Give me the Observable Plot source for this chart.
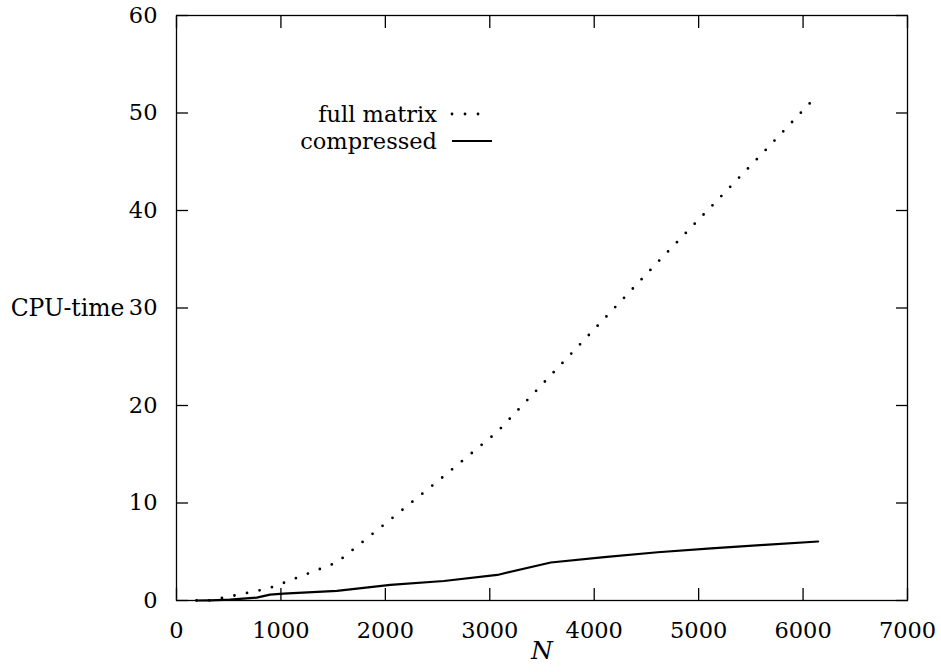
<!DOCTYPE html>
<html><head><meta charset="utf-8">
<script src="https://cdn.jsdelivr.net/npm/d3@7"></script>
<script src="https://cdn.jsdelivr.net/npm/@observablehq/plot@0.6"></script>
<style>
body{margin:0;background:#fff;}
#wrap{position:relative;width:941px;height:672px;background:#fff;}
#legend{position:absolute;left:0;top:101px;width:437px;text-align:right;font-family:"DejaVu Serif",serif;font-size:22.5px;line-height:27px;color:#000;}
#legendKeys{position:absolute;left:450px;top:101px;}
</style></head><body><div id="wrap"></div>
<script>
const N          = [192, 320, 512, 768, 896, 1024, 1536, 2048, 2560, 3072, 3584, 4096, 4608, 5120, 5632, 6144];
const fullMatrix = [0.0, 0.02, 0.42, 0.98, 1.3, 1.8, 3.9, 8.3, 12.75, 17.3, 23.1, 28.9, 34.7, 40.4, 46.1, 51.9];
const compressed = [0.0, 0.02, 0.08, 0.3, 0.6, 0.7, 0.98, 1.6, 2.0, 2.62, 3.9, 4.45, 4.95, 5.35, 5.7, 6.05];
const xTicks = [0, 1000, 2000, 3000, 4000, 5000, 6000, 7000];
const yTicks = [0, 10, 20, 30, 40, 50, 60];
const seriesNames = ["full matrix", "compressed"];
const xLabel = "N";
const yLabel = "CPU-time";

const rows = N.map((n, i) => ({n, full: fullMatrix[i], comp: compressed[i]}));
const font = "DejaVu Serif";

const chart = Plot.plot({
  width: 941, height: 672,
  marginLeft: 176, marginRight: 34, marginTop: 15, marginBottom: 72,
  style: {fontFamily: font, fontSize: "22px", background: "#fff", color: "#000"},
  x: {domain: [0, 7000]},
  y: {domain: [0, 60]},
  marks: [
    // inward ticks on all four sides
    Plot.axisX(xTicks, {anchor: "bottom", tickSize: -12, tickFormat: () => "", label: null, strokeWidth: 1.3}),
    Plot.axisX(xTicks, {anchor: "top", tickSize: -12, tickFormat: () => "", label: null, strokeWidth: 1.3}),
    Plot.axisY(yTicks, {anchor: "left", tickSize: -12, tickFormat: () => "", label: null, strokeWidth: 1.3}),
    Plot.axisY(yTicks, {anchor: "right", tickSize: -12, tickFormat: () => "", label: null, strokeWidth: 1.3}),
    // tick labels
    Plot.axisX(xTicks, {anchor: "bottom", tickSize: 0, tickPadding: 22, label: null, fontSize: 22.5, tickFormat: d => String(d)}),
    Plot.axisY(yTicks, {anchor: "left", tickSize: 0, tickPadding: 19, label: null, fontSize: 22.5, tickFormat: d => String(d)}),
    Plot.frame({stroke: "#000", strokeWidth: 1.3}),
    Plot.line(rows, {x: "n", y: "full", stroke: "#000", strokeWidth: 2.8, strokeDasharray: "0 12.8", strokeLinecap: "round"}),
    Plot.line(rows, {x: "n", y: "comp", stroke: "#000", strokeWidth: 2.2}),
    Plot.text([yLabel], {frameAnchor: "left", dx: -52, textAnchor: "end", fontSize: 23.5}),
    Plot.text([xLabel], {frameAnchor: "bottom", dy: 58, fontSize: 25, fontStyle: "italic"})
  ]
});

const wrap = document.getElementById("wrap");
wrap.appendChild(chart);
const lg = document.createElement("div");
lg.id = "legend";
lg.innerHTML = seriesNames.join("<br>");
wrap.appendChild(lg);
const keys = d3.create("svg").attr("id", "legendKeys").attr("width", 46).attr("height", 56);
keys.append("line").attr("x1", 2).attr("x2", 41).attr("y1", 13).attr("y2", 13)
  .attr("stroke", "#000").attr("stroke-width", 2.8).attr("stroke-linecap", "round").attr("stroke-dasharray", "0 13");
keys.append("line").attr("x1", 2).attr("x2", 42).attr("y1", 40).attr("y2", 40)
  .attr("stroke", "#000").attr("stroke-width", 2);
wrap.appendChild(keys.node());
</script></body></html>
